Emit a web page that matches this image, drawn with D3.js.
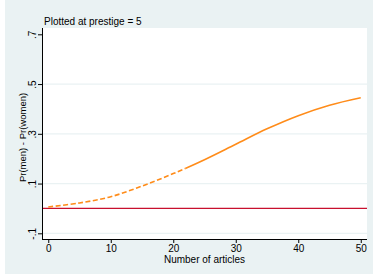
<!DOCTYPE html>
<html>
<head>
<meta charset="utf-8">
<script src="https://cdn.jsdelivr.net/npm/d3@7"></script>
<style>
  html, body { margin: 0; padding: 0; background: #ffffff; }
  svg { display: block; font-family: "Liberation Sans", Arial, sans-serif; }
</style>
</head>
<body>
<div id="chart"></div>
<script>
// values
const articles = [0, 5, 10, 15, 20, 25, 30, 35, 40, 45, 50];
const diff = [0.006, 0.022, 0.047, 0.09, 0.14, 0.196, 0.258, 0.32, 0.373, 0.415, 0.445];
const yTicks = [-0.1, 0.1, 0.3, 0.5, 0.7];
const yTickLabels = ["-.1", ".1", ".3", ".5", ".7"];
const xTicks = [0, 10, 20, 30, 40, 50];
const dashedUntil = 22;

const width = 373, height = 274;
const plot = { left: 42, right: 367, top: 28, bottom: 239 };

const svg = d3.select("#chart")
    .append("svg")
    .attr("width", width)
    .attr("height", height);

// graph region background
svg.append("rect")
    .attr("x", 5).attr("y", 0)
    .attr("width", width - 5).attr("height", height)
    .attr("fill", "#eaf2f3");

// plot region
svg.append("rect")
    .attr("x", plot.left).attr("y", plot.top)
    .attr("width", plot.right - plot.left).attr("height", plot.bottom - plot.top)
    .attr("fill", "#ffffff");

const x = d3.scaleLinear().domain([-1, 51]).range([plot.left, plot.right]);
const y = d3.scaleLinear().domain([-0.1, 0.7]).range([233.3, 34.3]);

// gridlines (not at the top tick)
svg.append("g")
    .selectAll("line")
    .data(yTicks.filter(d => d < 0.7))
    .enter()
    .append("line")
    .attr("x1", plot.left).attr("x2", plot.right)
    .attr("y1", d => y(d)).attr("y2", d => y(d))
    .attr("stroke", "#eaf2f3")
    .attr("stroke-width", 1.2);

// zero reference line
svg.append("line")
    .attr("x1", plot.left).attr("x2", plot.right)
    .attr("y1", y(0)).attr("y2", y(0))
    .attr("stroke", "#c8102e")
    .attr("stroke-width", 1.3);

// curve: dashed at the low end, solid afterwards
const line = d3.line()
    .x((d, i) => x(articles[i]))
    .y(d => y(d))
    .curve(d3.curveCatmullRom.alpha(0.5));

const defs = svg.append("defs");
defs.append("clipPath").attr("id", "clipDash")
    .append("rect")
    .attr("x", plot.left).attr("y", plot.top)
    .attr("width", x(dashedUntil) - plot.left).attr("height", plot.bottom - plot.top);
defs.append("clipPath").attr("id", "clipSolid")
    .append("rect")
    .attr("x", x(dashedUntil)).attr("y", plot.top)
    .attr("width", plot.right - x(dashedUntil)).attr("height", plot.bottom - plot.top);

svg.append("path")
    .datum(diff)
    .attr("d", line)
    .attr("clip-path", "url(#clipDash)")
    .attr("fill", "none")
    .attr("stroke", "#ff8c1a")
    .attr("stroke-width", 1.6)
    .attr("stroke-dasharray", "5,2.5");

svg.append("path")
    .datum(diff)
    .attr("d", line)
    .attr("clip-path", "url(#clipSolid)")
    .attr("fill", "none")
    .attr("stroke", "#ff8c1a")
    .attr("stroke-width", 1.6);

// y axis
const yAxis = svg.append("g")
    .attr("transform", `translate(${plot.left},0)`)
    .call(d3.axisLeft(y).tickValues(yTicks).tickSize(4).tickPadding(3)
        .tickFormat((d, i) => yTickLabels[i]));
yAxis.select(".domain")
    .attr("d", `M0.5,${plot.top}V${plot.bottom}`)
    .attr("stroke", "#000");
yAxis.selectAll(".tick line").attr("stroke", "#000");
yAxis.selectAll(".tick text")
    .attr("transform", "rotate(-90)")
    .attr("x", 0).attr("y", -6)
    .attr("dy", 0)
    .attr("text-anchor", "middle")
    .style("font-size", "10px")
    .attr("fill", "#000");

// x axis
const xAxis = svg.append("g")
    .attr("transform", `translate(0,${plot.bottom})`)
    .call(d3.axisBottom(x).tickValues(xTicks).tickSize(4).tickPadding(2));
xAxis.select(".domain")
    .attr("d", `M${plot.left},0.5H${plot.right}`)
    .attr("stroke", "#000");
xAxis.selectAll(".tick line").attr("stroke", "#000");
xAxis.selectAll(".tick text")
    .style("font-size", "10px")
    .attr("fill", "#000");

// axis titles
svg.append("text")
    .attr("x", (plot.left + plot.right) / 2)
    .attr("y", 263)
    .attr("text-anchor", "middle")
    .style("font-size", "10px")
    .text("Number of articles");

svg.append("text")
    .attr("transform", `translate(26,${(plot.top + plot.bottom) / 2 + 4}) rotate(-90)`)
    .attr("text-anchor", "middle")
    .style("font-size", "9.5px")
    .text("Pr(men) - Pr(women)");

// subtitle
svg.append("text")
    .attr("x", 44)
    .attr("y", 25)
    .style("font-size", "10px")
    .text("Plotted at prestige = 5");
</script>
</body>
</html>
